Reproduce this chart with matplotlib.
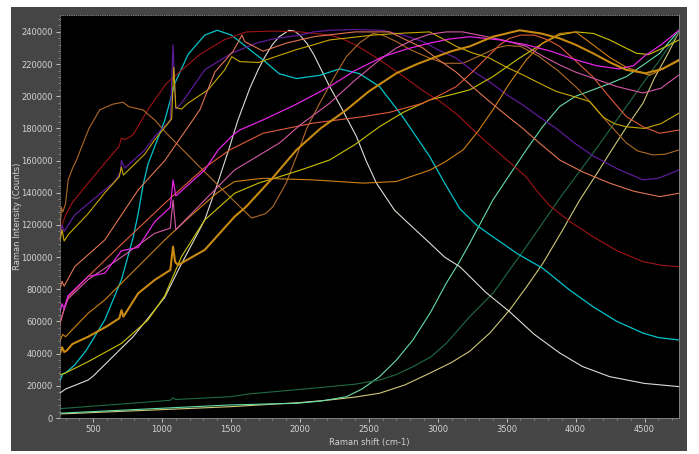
import matplotlib
matplotlib.use("Agg")
import matplotlib.pyplot as plt
from matplotlib.patches import Rectangle
from matplotlib.ticker import MultipleLocator

# spectra (Raman shift cm-1, counts)
white_x = [260, 300, 464, 500, 790, 1020, 1130, 1309, 1400, 1491, 1550, 1637, 1700, 1750, 1800, 1850, 1921, 1960, 2000, 2050, 2100, 2216, 2300, 2410, 2480, 2555, 2688, 2800, 2941, 3050, 3161, 3350, 3522, 3700, 3885, 4050, 4247, 4500, 4750]
white_y = [15500, 18000, 23600, 26000, 50500, 75000, 94000, 123000, 145000, 168700, 185000, 205000, 217000, 225000, 232000, 237000, 241000, 240500, 238000, 233000, 226000, 206000, 193000, 175000, 160000, 146000, 129000, 120000, 108800, 100000, 94000, 78000, 66000, 52000, 40400, 32000, 25700, 21500, 19500]

cyan_x = [260, 280, 300, 367, 450, 585, 706, 790, 827, 863, 899, 1020, 1093, 1189, 1310, 1400, 1504, 1636, 1733, 1850, 1975, 2144, 2289, 2433, 2578, 2748, 2942, 3050, 3161, 3280, 3399, 3580, 3763, 3950, 4126, 4300, 4488, 4600, 4750]
cyan_y = [23000, 27500, 28000, 33000, 42000, 61000, 86000, 112000, 127000, 145000, 158000, 185000, 208000, 226000, 238000, 241000, 238000, 229000, 222600, 214000, 211000, 213000, 217000, 214000, 206000, 187000, 162500, 146000, 130000, 120000, 112700, 102000, 93000, 80000, 69200, 60000, 52800, 50000, 48500]

darkred_x = [260, 275, 300, 350, 464, 600, 690, 705, 730, 790, 900, 1032, 1274, 1450, 1612, 1800, 2000, 2216, 2300, 2400, 2480, 2578, 2740, 2900, 3030, 3150, 3270, 3400, 3520, 3640, 3720, 3812, 3960, 4126, 4300, 4488, 4620, 4750]
darkred_y = [110000, 120000, 126000, 134000, 146000, 160000, 169000, 174000, 173000, 176000, 192000, 208000, 226000, 235000, 240000, 240500, 240000, 238000, 236000, 232000, 228000, 222600, 213000, 203000, 196000, 188000, 178000, 168000, 159000, 150000, 141000, 132000, 122000, 112700, 104000, 97200, 95000, 94000]

brown_x = [260, 270, 280, 300, 319, 350, 380, 470, 548, 640, 716, 760, 862, 950, 1032, 1274, 1515, 1650, 1750, 1805, 1900, 1975, 2050, 2144, 2250, 2337, 2430, 2530, 2600, 2700, 2800, 2941, 3050, 3183, 3300, 3425, 3500, 3600, 3730, 3870, 4000, 4110, 4240, 4368, 4450, 4561, 4650, 4750]
brown_y = [115000, 131000, 128000, 133000, 148000, 155000, 160400, 180000, 191500, 195000, 196300, 193500, 191500, 185000, 177000, 156000, 135500, 124300, 127000, 131400, 146000, 162500, 180000, 195700, 212000, 224600, 233000, 239000, 238000, 234000, 229000, 223700, 220500, 220500, 225000, 230000, 231500, 231000, 225000, 216000, 206000, 196000, 183000, 171000, 166000, 163500, 164000, 166600]

purple_x = [260, 275, 290, 367, 512, 657, 700, 705, 730, 875, 947, 1060, 1080, 1100, 1141, 1310, 1504, 1684, 1800, 2000, 2100, 2216, 2400, 2600, 2750, 2892, 3000, 3134, 3250, 3376, 3500, 3617, 3740, 3859, 3990, 4126, 4300, 4488, 4600, 4750]
purple_y = [115000, 120000, 116000, 126200, 136600, 147000, 153000, 160000, 155300, 166600, 175000, 185000, 232000, 192000, 195700, 216400, 226700, 233000, 235500, 238000, 240000, 241000, 241500, 241000, 238000, 234000, 229000, 223700, 216000, 209000, 201000, 194600, 187000, 180000, 171000, 163000, 155000, 148000, 149000, 154200]

yellowA_x = [260, 275, 290, 320, 464, 585, 690, 705, 720, 875, 947, 1044, 1070, 1085, 1100, 1141, 1189, 1334, 1455, 1506, 1564, 1700, 1975, 2100, 2216, 2530, 2700, 2941, 3030, 3134, 3250, 3376, 3500, 3617, 3740, 3859, 3980, 4102, 4200, 4280, 4368, 4500, 4620, 4750]
yellowA_y = [110000, 117000, 110000, 114000, 127000, 140000, 150000, 156000, 151000, 164000, 172900, 183200, 186000, 218000, 193000, 192000, 195700, 204000, 216400, 224600, 221500, 221000, 229000, 232000, 235000, 238000, 239000, 240000, 236000, 231000, 227000, 223700, 218000, 213300, 208000, 203000, 200000, 196700, 187000, 183000, 181000, 180000, 183000, 189500]

yellowB_x = [260, 295, 464, 706, 899, 1020, 1141, 1310, 1527, 1700, 1853, 2000, 2216, 2400, 2578, 2750, 2941, 3100, 3232, 3400, 3580, 3763, 3880, 4005, 4130, 4247, 4340, 4441, 4530, 4610, 4750]
yellowB_y = [26700, 27800, 35000, 46400, 61000, 76000, 100300, 123100, 139700, 146000, 150000, 154000, 160400, 170000, 181100, 190000, 197700, 201000, 204000, 212200, 223000, 233000, 238000, 240000, 239000, 235000, 231000, 226700, 226000, 229000, 235000]

thick_x = [260, 275, 290, 310, 350, 464, 600, 690, 706, 720, 827, 947, 1060, 1080, 1095, 1117, 1310, 1527, 1612, 1800, 1975, 2150, 2337, 2500, 2700, 2850, 2990, 3100, 3232, 3400, 3594, 3750, 3884, 4000, 4126, 4250, 4368, 4508, 4630, 4750]
thick_y = [40000, 44000, 41000, 42000, 46000, 50500, 57000, 62000, 67000, 63000, 77500, 85800, 92000, 106500, 97000, 95100, 104500, 125200, 131500, 149000, 166600, 180000, 191500, 203000, 214300, 220000, 224600, 228000, 231000, 237000, 241000, 239000, 236000, 232000, 226700, 221000, 216400, 214300, 217000, 222600]

orangeC_x = [260, 280, 300, 464, 585, 706, 1020, 1200, 1400, 1527, 1733, 2096, 2458, 2700, 2941, 3050, 3183, 3290, 3400, 3520, 3642, 3760, 3884, 4000, 4126, 4250, 4368, 4537, 4750]
orangeC_y = [48000, 52000, 50500, 65100, 73400, 83800, 110700, 125000, 140000, 147000, 149000, 148000, 146000, 147000, 154000, 159000, 166600, 178000, 191500, 208000, 222600, 233000, 239000, 240000, 232000, 224000, 218000, 213000, 222000]

magenta_x = [260, 275, 290, 318, 464, 585, 706, 827, 947, 1060, 1080, 1100, 1310, 1407, 1516, 1564, 1733, 1950, 2216, 2400, 2603, 2780, 2941, 3080, 3232, 3450, 3642, 3820, 4004, 4150, 4315, 4420, 4500, 4620, 4750]
magenta_y = [66000, 71000, 68000, 76000, 88000, 90000, 104000, 106000, 122000, 131000, 148000, 138000, 154200, 166600, 176000, 179000, 185300, 194000, 206000, 216000, 224600, 229500, 233000, 235500, 237000, 235000, 232000, 228000, 222600, 219000, 217000, 219000, 225000, 232000, 241000]

pink_x = [260, 318, 464, 706, 947, 1060, 1080, 1100, 1310, 1527, 1853, 2000, 2216, 2400, 2578, 2700, 2820, 2940, 3062, 3180, 3300, 3470, 3642, 3760, 3884, 4000, 4126, 4300, 4489, 4620, 4750]
pink_y = [60000, 74000, 86000, 100000, 114800, 118000, 135500, 117000, 135500, 154200, 171000, 182000, 195700, 210000, 222600, 230000, 235000, 238500, 240000, 240000, 238000, 235000, 231000, 225000, 219500, 215000, 211200, 206000, 202000, 205000, 213300]

salmon1_x = [260, 275, 290, 367, 585, 827, 1020, 1274, 1383, 1516, 1580, 1600, 1733, 1900, 2100, 2400, 2650, 2892, 3000, 3134, 3250, 3376, 3500, 3617, 3750, 3884, 4050, 4247, 4420, 4610, 4750]
salmon1_y = [80000, 85000, 82000, 94100, 110700, 141800, 160000, 191500, 215000, 228000, 238000, 234000, 228000, 233000, 237000, 240000, 240000, 230000, 223000, 215000, 206000, 196700, 188000, 180000, 170000, 160400, 153000, 146000, 141000, 137600, 139700]

salmon2_x = [260, 290, 318, 464, 706, 1020, 1300, 1491, 1733, 2096, 2458, 2650, 2892, 3000, 3134, 3250, 3376, 3450, 3521, 3600, 3700, 3800, 3884, 4000, 4126, 4250, 4368, 4490, 4610, 4750]
salmon2_y = [58000, 68000, 75000, 88000, 108000, 133500, 155000, 166600, 177000, 183300, 187300, 190000, 195700, 200000, 206000, 215000, 225700, 232000, 236000, 238000, 238000, 235000, 231000, 222000, 212000, 199000, 187300, 181000, 177000, 179000]

dkgreen_x = [260, 1060, 1080, 1100, 1491, 1636, 1900, 2216, 2400, 2578, 2700, 2820, 2950, 3062, 3158, 3232, 3400, 3642, 3884, 4126, 4368, 4610, 4750]
dkgreen_y = [5800, 11000, 12500, 11500, 13200, 15000, 17000, 19500, 21000, 23600, 27000, 31900, 38000, 46400, 55800, 63000, 77500, 106500, 136500, 164600, 193600, 222600, 240000]

seafoam_x = [260, 1491, 1800, 1974, 2150, 2337, 2450, 2578, 2700, 2820, 2950, 3062, 3150, 3232, 3400, 3520, 3642, 3760, 3884, 4000, 4126, 4250, 4368, 4508, 4610, 4750]
seafoam_y = [3000, 8100, 8800, 9100, 10500, 13200, 18000, 25700, 36000, 48500, 66000, 83800, 96000, 108600, 135500, 151000, 166600, 181000, 193600, 200000, 204000, 208000, 212200, 220500, 226700, 241000]

khaki_x = [260, 1491, 2000, 2216, 2400, 2578, 2760, 2941, 3100, 3232, 3380, 3522, 3640, 3763, 3900, 4030, 4140, 4247, 4370, 4489, 4570, 4658, 4750]
khaki_y = [2500, 7000, 9600, 11200, 13000, 15400, 20500, 27800, 34500, 41500, 53000, 67200, 81000, 96200, 116000, 135500, 150000, 164600, 181000, 195700, 211000, 224600, 240000]

series = [
    (khaki_x, khaki_y, "#cfc878", 0.8),
    (seafoam_x, seafoam_y, "#66dcaa", 0.8),
    (dkgreen_x, dkgreen_y, "#1f6b45", 0.8),
    (white_x, white_y, "#dcdcd4", 0.8),
    (cyan_x, cyan_y, "#00c4cc", 0.9),
    (darkred_x, darkred_y, "#a01414", 0.8),
    (brown_x, brown_y, "#b06a28", 0.8),
    (purple_x, purple_y, "#5e1a96", 0.9),
    (yellowA_x, yellowA_y, "#c8a800", 0.8),
    (yellowB_x, yellowB_y, "#cdc200", 0.8),
    (orangeC_x, orangeC_y, "#d08010", 0.8),
    (salmon2_x, salmon2_y, "#e05a3a", 0.8),
    (pink_x, pink_y, "#d45aa6", 0.8),
    (magenta_x, magenta_y, "#e424e4", 0.9),
    (salmon1_x, salmon1_y, "#e07452", 0.8),
    (thick_x, thick_y, "#c88a10", 1.5),
]

W, H = 699, 454
fig = plt.figure(figsize=(W / 100, H / 100), dpi=100)
fig.patch.set_facecolor("white")
# dark panel behind the plot
fig.patches.append(Rectangle((11 / W, 1 - 451 / H), 676 / W, 444 / H,
                             transform=fig.transFigure, facecolor="#454545",
                             edgecolor="none", zorder=-5))

ax = fig.add_axes([60 / W, 1 - 418 / H, 619 / W, 403 / H])
ax.set_zorder(1)
ax.set_facecolor("black")

for xs, ys, c, lw in series:
    ax.plot(xs, ys, color=c, lw=lw)

ax.set_xlim(260, 4750)
ax.set_ylim(0, 250500)
ax.xaxis.set_major_locator(MultipleLocator(500))
ax.xaxis.set_minor_locator(MultipleLocator(100))
ax.yaxis.set_major_locator(MultipleLocator(20000))
ax.yaxis.set_minor_locator(MultipleLocator(4000))
ax.tick_params(colors="#d4d4d4", labelsize=6, length=3, width=0.6, pad=2)
ax.tick_params(which="minor", colors="#9a9a9a", length=1.5, width=0.5)
for s in ax.spines.values():
    s.set_color("#8a8a8a")
    s.set_linewidth(0.6)
ax.spines["top"].set_linestyle(":")
ax.spines["left"].set_linestyle(":")

ax.set_xlabel("Raman shift (cm-1)", color="#d4d4d4", fontsize=6)
ax.set_ylabel("Raman Intensity (Counts)", color="#d4d4d4", fontsize=6)
ax.xaxis.set_label_coords(0.5, -0.05)
ax.yaxis.set_label_coords(-0.062, 0.5)

fig.savefig("out.png", dpi=100, facecolor=fig.get_facecolor())
